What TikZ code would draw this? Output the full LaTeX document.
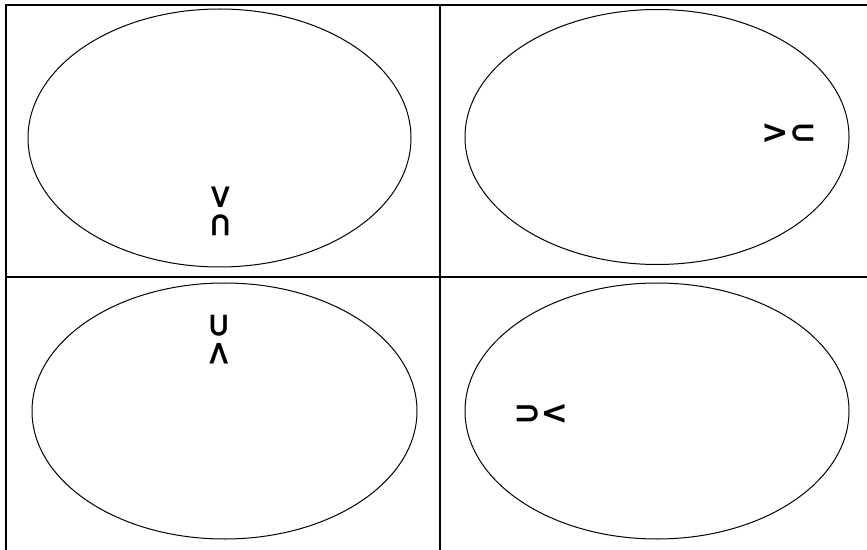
\documentclass[tikz,border=0pt]{standalone}
\usepackage{fontspec}
\newfontfamily\symfont{DejaVu Sans}
\begin{document}
\begin{tikzpicture}[x=1bp,y=-1bp,
  grid/.style={line width=2.8bp,black},
  oval/.style={line width=1bp,black},
  sym/.style={font=\symfont\bfseries\fontsize{33}{33}\selectfont,inner sep=0pt}]
\useasboundingbox (0,0) rectangle (867,550);
\draw[grid] (6,550) -- (6,5) -- (867,5);
\draw[grid] (440,5) -- (440,550);
\draw[grid] (6,277) -- (867,277);
\draw[oval] (219.5,138) ellipse [x radius=191.5, y radius=129];
\draw[oval] (657,137) ellipse [x radius=192, y radius=127.5];
\draw[oval] (224.5,411) ellipse [x radius=192.5, y radius=128];
\draw[oval] (657,411) ellipse [x radius=192, y radius=128];
\node[sym,rotate=-90] (tl) at (220,211) {>⊂};
\node[sym] (tr) at (789,134) {>⊂};
\node[sym,rotate=90] (bl) at (220,340) {>⊂};
\node[sym,rotate=180] (br) at (541,413) {>⊂};
\end{tikzpicture}
\end{document}
